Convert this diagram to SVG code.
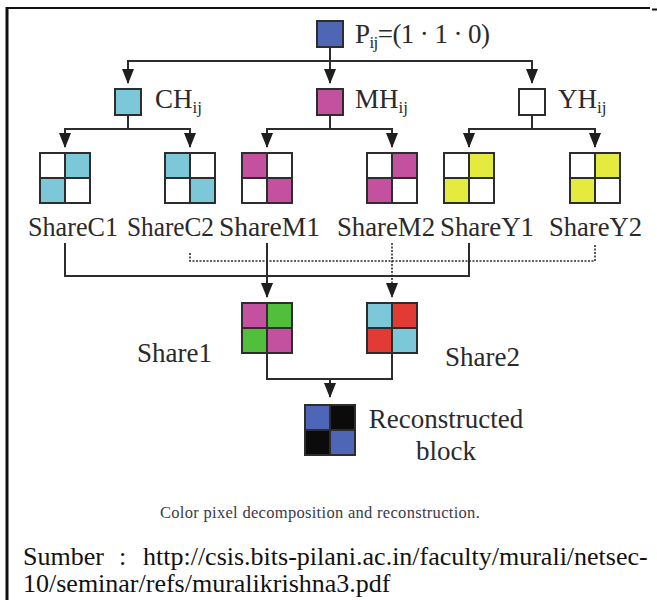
<svg xmlns="http://www.w3.org/2000/svg" width="657" height="600" viewBox="0 0 657 600">
<defs>
<style>
.bx{stroke:#2d2d2d;stroke-width:2}
.w{fill:#ffffff}.c{fill:#7cc8d8}.m{fill:#c3519f}.y{fill:#e4ea3e}.g{fill:#52bf3c}.r{fill:#e23a35}.b{fill:#4d66b5}.k{fill:#0b0b0b}
.lbl{font-family:"Liberation Serif","Times New Roman",serif;font-size:27px;fill:#2a2a2a}
.sub{font-size:17px}
.conn{stroke:#2d2d2d;stroke-width:2;fill:none}
.dot{stroke-width:1.6;stroke-dasharray:2 1.5}
.cap{font-family:"Liberation Serif","Times New Roman",serif;font-size:16.5px;fill:#3a3a4a;letter-spacing:0.3px}
.src{font-family:"Liberation Serif","Times New Roman",serif;font-size:26px;fill:#111111}
</style>
<marker id="ah" markerUnits="userSpaceOnUse" markerWidth="15" markerHeight="12" viewBox="0 0 15 12" refX="14" refY="6" orient="auto">
<path d="M0,0 L15,6 L0,12 z" fill="#1e1e1e"/>
</marker>
</defs>
<rect width="657" height="600" fill="#ffffff"/>
<g id="frame" fill="none" stroke="#111111">
<line x1="6" y1="8" x2="650" y2="8" stroke-width="2"/>
<line x1="652" y1="9.5" x2="657" y2="9.5" stroke-width="2"/>
<line x1="7" y1="7" x2="7" y2="600" stroke-width="3"/>
</g>
<g id="connectors">
<path class="conn" d="M330,47 V83" marker-end="url(#ah)"/>
<path class="conn" d="M330,61 H128 V83" marker-end="url(#ah)"/>
<path class="conn" d="M330,61 H532 V83" marker-end="url(#ah)"/>
<path class="conn" d="M128,115 V129 H65 V147" marker-end="url(#ah)"/>
<path class="conn" d="M128,129 H190 V147" marker-end="url(#ah)"/>
<path class="conn" d="M330,115 V129 H267 V147" marker-end="url(#ah)"/>
<path class="conn" d="M330,129 H392 V147" marker-end="url(#ah)"/>
<path class="conn" d="M532,115 V129 H469 V147" marker-end="url(#ah)"/>
<path class="conn" d="M532,129 H595 V147" marker-end="url(#ah)"/>
<path class="conn" d="M65,243 V276 H469 V243"/>
<path class="conn" d="M267,243 V297" marker-end="url(#ah)"/>
<path class="conn dot" d="M190,253 V261 H595 V245"/>
<path class="conn dot" d="M392,243 V297" marker-end="url(#ah)"/>
<path class="conn" d="M267,353 V379 H392 V353"/>
<path class="conn" d="M330,379 V397" marker-end="url(#ah)"/>
</g>
<g id="P">
<rect class="bx b" x="317" y="21" width="26" height="26"/>
<text class="lbl" x="355" y="43" textLength="135" lengthAdjust="spacing">P<tspan class="sub" dy="5">ij</tspan><tspan dy="-5">=(1 · 1 · 0)</tspan></text>
</g>
<g id="CH">
<rect class="bx c" x="115" y="89" width="26" height="26"/>
<text class="lbl" x="155" y="108">CH<tspan class="sub" dy="5">ij</tspan></text>
</g>
<g id="MH">
<rect class="bx m" x="317" y="89" width="26" height="26"/>
<text class="lbl" x="355" y="108">MH<tspan class="sub" dy="5">ij</tspan></text>
</g>
<g id="YH">
<rect class="bx w" x="519" y="89" width="26" height="26"/>
<text class="lbl" x="558" y="108">YH<tspan class="sub" dy="5">ij</tspan></text>
</g>
<g id="ShareC1">
<rect class="bx w" x="40" y="153" width="25" height="25"/><rect class="bx c" x="65" y="153" width="25" height="25"/>
<rect class="bx c" x="40" y="178" width="25" height="25"/><rect class="bx w" x="65" y="178" width="25" height="25"/>
<text class="lbl" x="28" y="236" textLength="90" lengthAdjust="spacingAndGlyphs">ShareC1</text>
</g>
<g id="ShareC2">
<rect class="bx c" x="165" y="153" width="25" height="25"/><rect class="bx w" x="190" y="153" width="25" height="25"/>
<rect class="bx w" x="165" y="178" width="25" height="25"/><rect class="bx c" x="190" y="178" width="25" height="25"/>
<text class="lbl" x="127" y="236" textLength="87" lengthAdjust="spacingAndGlyphs">ShareC2</text>
</g>
<g id="ShareM1">
<rect class="bx m" x="242" y="153" width="25" height="25"/><rect class="bx w" x="267" y="153" width="25" height="25"/>
<rect class="bx w" x="242" y="178" width="25" height="25"/><rect class="bx m" x="267" y="178" width="25" height="25"/>
<text class="lbl" x="219" y="236" textLength="101" lengthAdjust="spacingAndGlyphs">ShareM1</text>
</g>
<g id="ShareM2">
<rect class="bx w" x="367" y="153" width="25" height="25"/><rect class="bx m" x="392" y="153" width="25" height="25"/>
<rect class="bx m" x="367" y="178" width="25" height="25"/><rect class="bx w" x="392" y="178" width="25" height="25"/>
<text class="lbl" x="337" y="236" textLength="98" lengthAdjust="spacingAndGlyphs">ShareM2</text>
</g>
<g id="ShareY1">
<rect class="bx w" x="444" y="153" width="25" height="25"/><rect class="bx y" x="469" y="153" width="25" height="25"/>
<rect class="bx y" x="444" y="178" width="25" height="25"/><rect class="bx w" x="469" y="178" width="25" height="25"/>
<text class="lbl" x="440" y="236" textLength="94" lengthAdjust="spacingAndGlyphs">ShareY1</text>
</g>
<g id="ShareY2">
<rect class="bx w" x="570" y="153" width="25" height="25"/><rect class="bx y" x="595" y="153" width="25" height="25"/>
<rect class="bx y" x="570" y="178" width="25" height="25"/><rect class="bx w" x="595" y="178" width="25" height="25"/>
<text class="lbl" x="549" y="236" textLength="93" lengthAdjust="spacingAndGlyphs">ShareY2</text>
</g>
<g id="Share1">
<rect class="bx m" x="242" y="303" width="25" height="25"/><rect class="bx g" x="267" y="303" width="25" height="25"/>
<rect class="bx g" x="242" y="328" width="25" height="25"/><rect class="bx m" x="267" y="328" width="25" height="25"/>
<text class="lbl" x="137" y="362">Share1</text>
</g>
<g id="Share2">
<rect class="bx c" x="367" y="303" width="25" height="25"/><rect class="bx r" x="392" y="303" width="25" height="25"/>
<rect class="bx r" x="367" y="328" width="25" height="25"/><rect class="bx c" x="392" y="328" width="25" height="25"/>
<text class="lbl" x="445" y="366">Share2</text>
</g>
<g id="Reconstructed">
<rect class="bx b" x="305" y="405" width="25" height="25"/><rect class="bx k" x="330" y="405" width="25" height="25"/>
<rect class="bx k" x="305" y="430" width="25" height="25"/><rect class="bx b" x="330" y="430" width="25" height="25"/>
<text class="lbl" x="446" y="428" text-anchor="middle">Reconstructed</text>
<text class="lbl" x="446" y="460" text-anchor="middle">block</text>
</g>
<g id="caption">
<text class="cap" x="160" y="518">Color pixel decomposition and reconstruction.</text>
</g>
<g id="source">
<text class="src" x="23" y="565">Sumber</text>
<text class="src" x="119" y="565">:</text>
<text class="src" x="143" y="565">http://csis.bits-pilani.ac.in/faculty/murali/netsec-</text>
<text class="src" x="23" y="592">10/seminar/refs/muralikrishna3.pdf</text>
</g>
</svg>
